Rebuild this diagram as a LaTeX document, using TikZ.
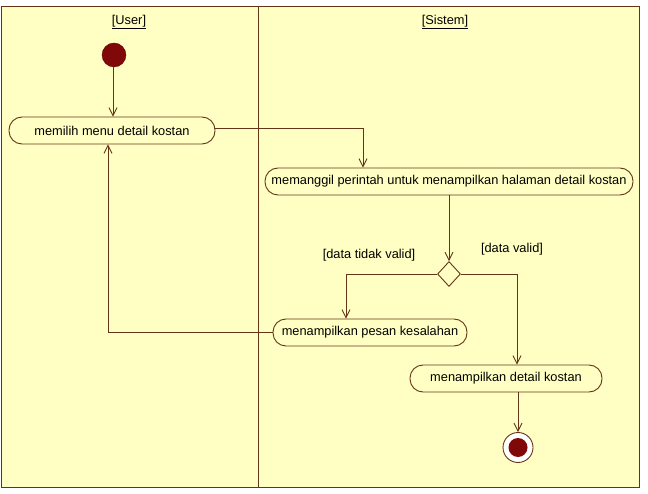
\documentclass[tikz,border=0pt]{standalone}
\usepackage{fontspec}
\setmainfont{Liberation Sans}
\usetikzlibrary{arrows.meta,shapes.geometric}
\definecolor{lane}{RGB}{255,255,196}
\definecolor{edge}{RGB}{100,52,24}
\definecolor{dot}{RGB}{128,8,8}
\tikzset{
  act/.style={draw=edge,line width=0.9pt,fill=lane,rounded corners=13pt,minimum height=27pt,inner sep=0pt,font=\fontsize{12.8}{14}\selectfont},
  flow/.style={draw=edge,line width=0.9pt,-{Straight Barb[length=8pt,width=8pt]}},
  dec/.style={draw=edge,line width=0.9pt,fill=lane,diamond,minimum width=23pt,minimum height=25pt,inner sep=0pt},
  guard/.style={font=\fontsize{12.8}{14}\selectfont},
  hdr/.style={font=\fontsize{12.8}{14}\selectfont}
}
\begin{document}
\begin{tikzpicture}[x=1pt,y=-1pt]
\useasboundingbox (0,0) rectangle (648,494);
\fill[white] (0,0) rectangle (648,494);
\draw[edge,line width=1pt,fill=lane] (1,7) rectangle (639,487);
\draw[edge,line width=1pt] (258,7) -- (258,487);
\node[hdr] (u) at (129,22) {\underline{[User]}};
\node[hdr] (s) at (445,22) {\underline{[Sistem]}};
\node[circle,fill=dot,draw=dot!80!black,minimum size=24pt,inner sep=0pt] (start) at (114,55) {};
\node[act,minimum width=206pt] (a1) at (112,130.5) {memilih menu detail kostan};
\node[act,minimum width=368pt] (a2) at (449,181.5) {memanggil perintah untuk menampilkan halaman detail kostan};
\node[dec] (d) at (449,274) {};
\node[act,minimum width=194pt] (a3) at (370,332.5) {menampilkan pesan kesalahan};
\node[act,minimum width=192pt] (a4) at (506,378.5) {menampilkan detail kostan};
\node[circle,draw=edge,line width=0.9pt,fill=white,minimum size=30pt,inner sep=0pt] (end) at (518,447.5) {};
\node[circle,fill=dot,minimum size=19pt,inner sep=0pt] (endin) at (518,447.5) {};
\node[guard] (g1) at (369,255) {[data tidak valid]};
\node[guard] (g2) at (512,249) {[data valid]};
\coordinate (c1) at (363,128);
\coordinate (c2) at (346,274);
\coordinate (c3) at (517,274);
\coordinate (c4) at (108,332.5);
\draw[flow] (start.south -| 113,0) -- (a1.north -| 113,0);
\draw[flow] (a1.east |- c1) -- (c1) -- (c1 |- a2.north);
\draw[flow] (a2.south -| d) -- (d.north);
\draw[flow] (d.west) -- (c2) -- (c2 |- a3.north);
\draw[flow] (d.east) -- (c3) -- (c3 |- a4.north);
\draw[flow] (a3.west) -- (c4) -- (c4 |- a1.south);
\draw[flow] (a4.south -| end) -- (end.north);
\end{tikzpicture}
\end{document}
